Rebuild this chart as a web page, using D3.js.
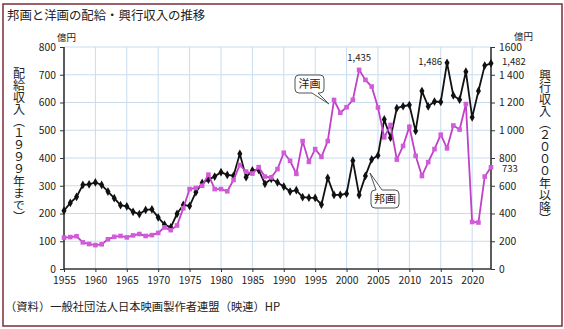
<!DOCTYPE html>
<html><head><meta charset="utf-8">
<script src="https://cdn.jsdelivr.net/npm/d3@7"></script>
<style>
html,body{margin:0;padding:0;background:#fff;}
svg{display:block;}
text{font-family:"Noto Sans CJK JP","Noto Sans",sans-serif;fill:#222;}
</style></head>
<body>
<svg id="c" width="564" height="329"></svg>
<script>
// ---- data ----
const yearsPre = d3.range(1955, 2000);   // 配給収入 (left axis)
const yearsPost = d3.range(2000, 2024);  // 興行収入 (right axis)
const hogaPre = [210,238,260,303,305,312,303,279,255,230, 226,206,198,213,215,186,160,150,199,231,
                 227,277,310,322,333,349,339,336,415,331, 355,357,307,325,312,297,279,284,259,257,
                 256,232,328,267,267];
const yogaPre = [113,115,118,96,90,86,89,107,116,119, 114,121,126,119,122,130,150,140,157,219,
                 288,292,300,340,288,288,280,321,375,351, 344,367,333,330,360,419,390,343,461,386,
                 432,404,461,609,563];
const hogaPost = [543,781,533,671,790,818,1078,946,1159,1173,1182,995,1282,1172,1207,1204,1486,1251,1220,1422,1093,1283,1466,1482];
const yogaPost = [1166,1219,1435,1363,1315,1164,949,1038,789,887,1025,816,670,770,864,968,870,1034,1005,1189,339,335,666,733];
const leftTicks = [0,100,200,300,400,500,600,700,800];
const rightTicks = [0,200,400,600,800,1000,1200,1400,1600];
const rightTickLabels = ["0","200","400","600","800","1 000","1 200","1 400","1600"];
const xTicks = [1955,1960,1965,1970,1975,1980,1985,1990,1995,2000,2005,2010,2015,2020];
const annotations = [
  {series:"yoga", year:2002, text:"1,435", pos:"top", dy:-9},
  {series:"hoga", year:2016, text:"1,486", pos:"left", dy:2},
  {series:"hoga", year:2023, text:"1,482", pos:"right", dy:1.5},
  {series:"yoga", year:2023, text:"733", pos:"right", dy:5}
];

// ---- layout ----
const svg = d3.select("#c");
const L = 64, R = 491, T = 47, B = 269;
const x = d3.scaleLinear().domain([1955, 2023]).range([L, R]);
const yL = d3.scaleLinear().domain([0, 800]).range([B, T]);
const yR = d3.scaleLinear().domain([0, 1600]).range([B, T]);

svg.append("rect").attr("x",0).attr("y",0).attr("width",564).attr("height",329).attr("fill","#fff");
svg.append("rect").attr("x",3).attr("y",4).attr("width",559).attr("height",322)
  .attr("fill","none").attr("stroke","#7d2b3a").attr("stroke-width",1.5);

svg.append("text").attr("x",7).attr("y",20).attr("font-size",12.4).attr("fill","#333")
  .text("邦画と洋画の配給・興行収入の推移");

// grid
const g = svg.append("g");
g.selectAll(".hg").data(leftTicks.filter(d=>d>0)).enter().append("line")
  .attr("x1",L).attr("x2",R).attr("y1",d=>yL(d)).attr("y2",d=>yL(d))
  .attr("stroke","#c9dcee").attr("stroke-width",1);
g.selectAll(".vg").data(xTicks.filter(d=>d>1955)).enter().append("line")
  .attr("x1",d=>x(d)).attr("x2",d=>x(d)).attr("y1",T).attr("y2",B)
  .attr("stroke","#c9dcee").attr("stroke-width",1);

// axes
const axL = svg.append("g").attr("transform",`translate(${L},0)`)
  .call(d3.axisLeft(yL).tickValues(leftTicks).tickSize(4).tickPadding(4).tickFormat(d3.format("d")));
const axR = svg.append("g").attr("transform",`translate(${R},0)`)
  .call(d3.axisRight(yR).tickValues(rightTicks).tickSize(4).tickPadding(4).tickFormat((d,i)=>rightTickLabels[i]));
const axB = svg.append("g").attr("transform",`translate(0,${B})`)
  .call(d3.axisBottom(x).tickValues(xTicks).tickSize(3).tickPadding(5).tickFormat(d3.format("d")));
[axL,axR,axB].forEach(a=>{
  a.select(".domain").attr("stroke","#333").attr("stroke-width",1.6);
  a.selectAll(".tick line").attr("stroke","#333");
  a.selectAll(".tick text").attr("font-size",10.3).attr("fill","#222")
    .attr("font-family",'"Noto Sans CJK JP",sans-serif');
});
axL.select(".domain").attr("d",`M0,${B}V${T}`);
axR.select(".domain").attr("d",`M0,${B}V${T}`);
axB.select(".domain").attr("d",`M${L},0H${R}`);

// unit labels
svg.append("text").attr("x",57).attr("y",41).attr("font-size",9.5).text("億円");
svg.append("text").attr("x",514).attr("y",40).attr("font-size",9.5).text("億円");

// vertical axis titles
function vtext(xc, ytop, str){
  svg.append("text").attr("x",xc).attr("y",ytop).attr("font-size",12)
    .style("writing-mode","vertical-rl").style("text-orientation","upright")
    .style("letter-spacing","0px").text(str);
}
vtext(19, 67, "配給収入（１９９９年まで）");
vtext(545, 69, "興行収入（２０００年以降）");

// series
const hoga = yearsPre.map((yr,i)=>({year:yr, py:yL(hogaPre[i])}))
  .concat(yearsPost.map((yr,i)=>({year:yr, py:yR(hogaPost[i])})));
const yoga = yearsPre.map((yr,i)=>({year:yr, py:yL(yogaPre[i])}))
  .concat(yearsPost.map((yr,i)=>({year:yr, py:yR(yogaPost[i])})));
const line = d3.line().x(d=>x(d.year)).y(d=>d.py);

svg.append("path").datum(hoga).attr("d",line).attr("fill","none").attr("stroke","#111").attr("stroke-width",1.8);
svg.selectAll(".hm").data(hoga).enter().append("path")
  .attr("d",d3.symbol().type(d3.symbolDiamond).size(22))
  .attr("transform",d=>`translate(${x(d.year)},${d.py})`).attr("fill","#111");

svg.append("path").datum(yoga).attr("d",line).attr("fill","none").attr("stroke","#c040c8").attr("stroke-width",1.8);
svg.selectAll(".ym").data(yoga).enter().append("rect")
  .attr("x",d=>x(d.year)-2.3).attr("y",d=>d.py-2.3).attr("width",4.6).attr("height",4.6)
  .attr("fill","#d05cd8");

// annotations
const seriesMap = {hoga, yoga};
annotations.forEach(a=>{
  const p = seriesMap[a.series].find(d=>d.year===a.year);
  const t = svg.append("text").attr("font-size",9.5).attr("font-family","Liberation Sans, Arial, sans-serif").attr("fill","#333").text(a.text);
  if(a.pos==="top") t.attr("x",x(p.year)).attr("y",p.py+a.dy).attr("text-anchor","middle");
  if(a.pos==="left") t.attr("x",x(p.year)-5).attr("y",p.py+a.dy).attr("text-anchor","end");
  if(a.pos==="right") t.attr("x",x(p.year)+11).attr("y",p.py+a.dy).attr("text-anchor","start");
});

// callouts
function callout(x0,y0,x1,y1,tail,label){
  const r=4;
  let d;
  if(tail.side==="bottom"){
    d=`M${x0+r},${y0}H${x1-r}Q${x1},${y0} ${x1},${y0+r}V${y1-r}Q${x1},${y1} ${x1-r},${y1}`+
      `H${tail.b2}L${tail.tx},${tail.ty}L${tail.b1},${y1}H${x0+r}Q${x0},${y1} ${x0},${y1-r}V${y0+r}Q${x0},${y0} ${x0+r},${y0}Z`;
  } else {
    d=`M${x0+r},${y0}H${tail.b1}L${tail.tx},${tail.ty}L${tail.b2},${y0}H${x1-r}Q${x1},${y0} ${x1},${y0+r}V${y1-r}Q${x1},${y1} ${x1-r},${y1}`+
      `H${x0+r}Q${x0},${y1} ${x0},${y1-r}V${y0+r}Q${x0},${y0} ${x0+r},${y0}Z`;
  }
  svg.append("path").attr("d",d).attr("fill","#fff").attr("stroke","#555").attr("stroke-width",1);
  svg.append("text").attr("x",(x0+x1)/2).attr("y",(y0+y1)/2+4).attr("text-anchor","middle")
    .attr("font-size",11).text(label);
}
callout(295,75,324,93,{side:"bottom",b1:312,b2:318,tx:329,ty:104},"洋画");
callout(371,190,399,208,{side:"top",b1:376,b2:382,tx:370,ty:173},"邦画");

svg.append("text").attr("x",5).attr("y",311).attr("font-size",11.3).attr("fill","#222")
  .text("（資料）一般社団法人日本映画製作者連盟（映連）HP");
</script>
</body></html>
